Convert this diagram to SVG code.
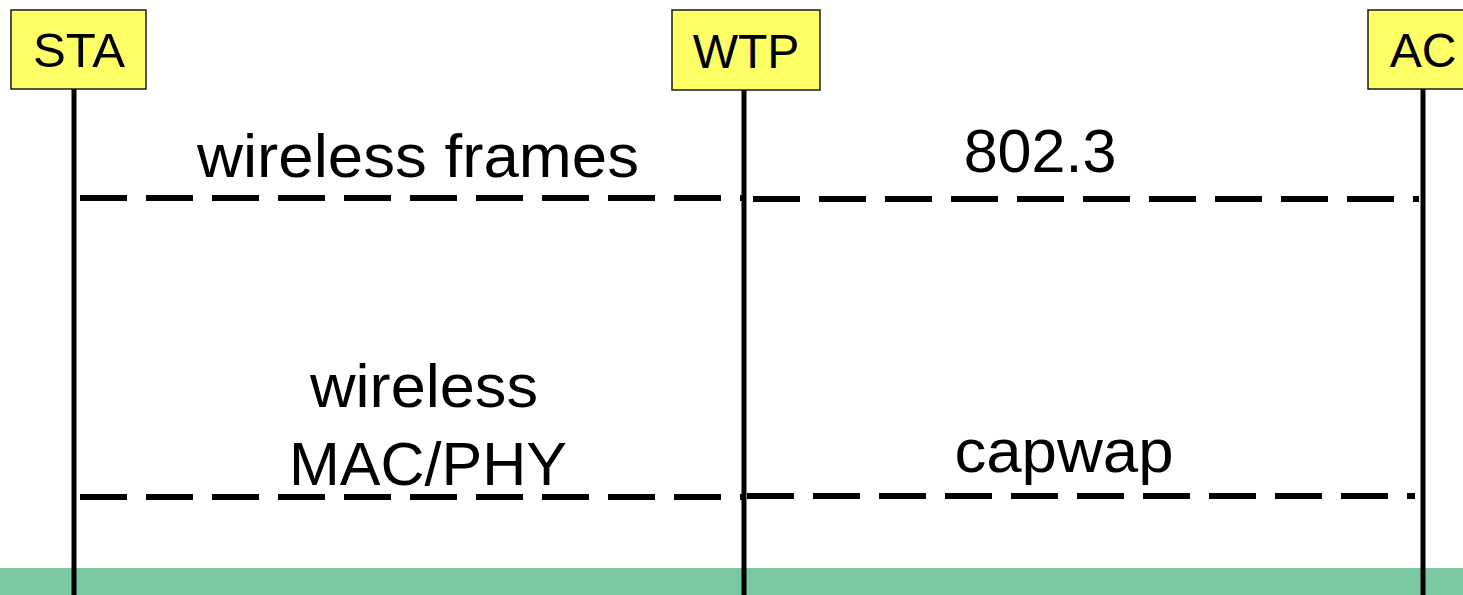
<svg xmlns="http://www.w3.org/2000/svg" width="1463" height="595" viewBox="0 0 1463 595">
<style>
.box{fill:#ffff66;stroke:#1a1a1a;stroke-width:1.5}
.life{stroke:#000;stroke-width:5}
.dash{stroke:#000;stroke-width:6;stroke-dasharray:47 19;fill:none}
.lbl{font-family:"Liberation Sans",Arial,sans-serif;font-size:48px;fill:#000;text-anchor:middle}
.big{font-family:"Liberation Sans",Arial,sans-serif;font-size:61px;fill:#000;text-anchor:middle}
</style>
<rect x="0" y="568" width="1463" height="27" fill="#7ac9a0"/>
<g id="lifelines">
<line class="life" x1="74" y1="89" x2="74" y2="595"/>
<line class="life" x1="744" y1="90" x2="744" y2="595"/>
<line class="life" x1="1423" y1="89" x2="1423" y2="595"/>
</g>
<g id="STA"><rect class="box" x="11" y="10" width="135" height="79"/><text class="lbl" x="79" y="67" textLength="92" lengthAdjust="spacingAndGlyphs">STA</text></g>
<g id="WTP"><rect class="box" x="672" y="10" width="148" height="80"/><text class="lbl" x="746" y="68">WTP</text></g>
<g id="AC"><rect class="box" x="1368" y="10" width="110" height="79"/><text class="lbl" x="1423" y="67">AC</text></g>
<g id="connectors">
<line class="dash" x1="80" y1="198" x2="745" y2="198"/>
<line class="dash" x1="753" y1="199" x2="1419" y2="199"/>
<line class="dash" x1="80" y1="497" x2="745" y2="497"/>
<line class="dash" x1="747" y1="496" x2="1415" y2="496"/>
</g>
<g id="labels">
<text class="big" x="418" y="177" textLength="442" lengthAdjust="spacingAndGlyphs">wireless frames</text>
<text class="big" x="1040" y="172">802.3</text>
<text class="big" x="424" y="407" textLength="228" lengthAdjust="spacingAndGlyphs">wireless</text>
<text class="big" x="428" y="485">MAC/PHY</text>
<text class="big" x="1064" y="472" textLength="219" lengthAdjust="spacingAndGlyphs">capwap</text>
</g>
</svg>
